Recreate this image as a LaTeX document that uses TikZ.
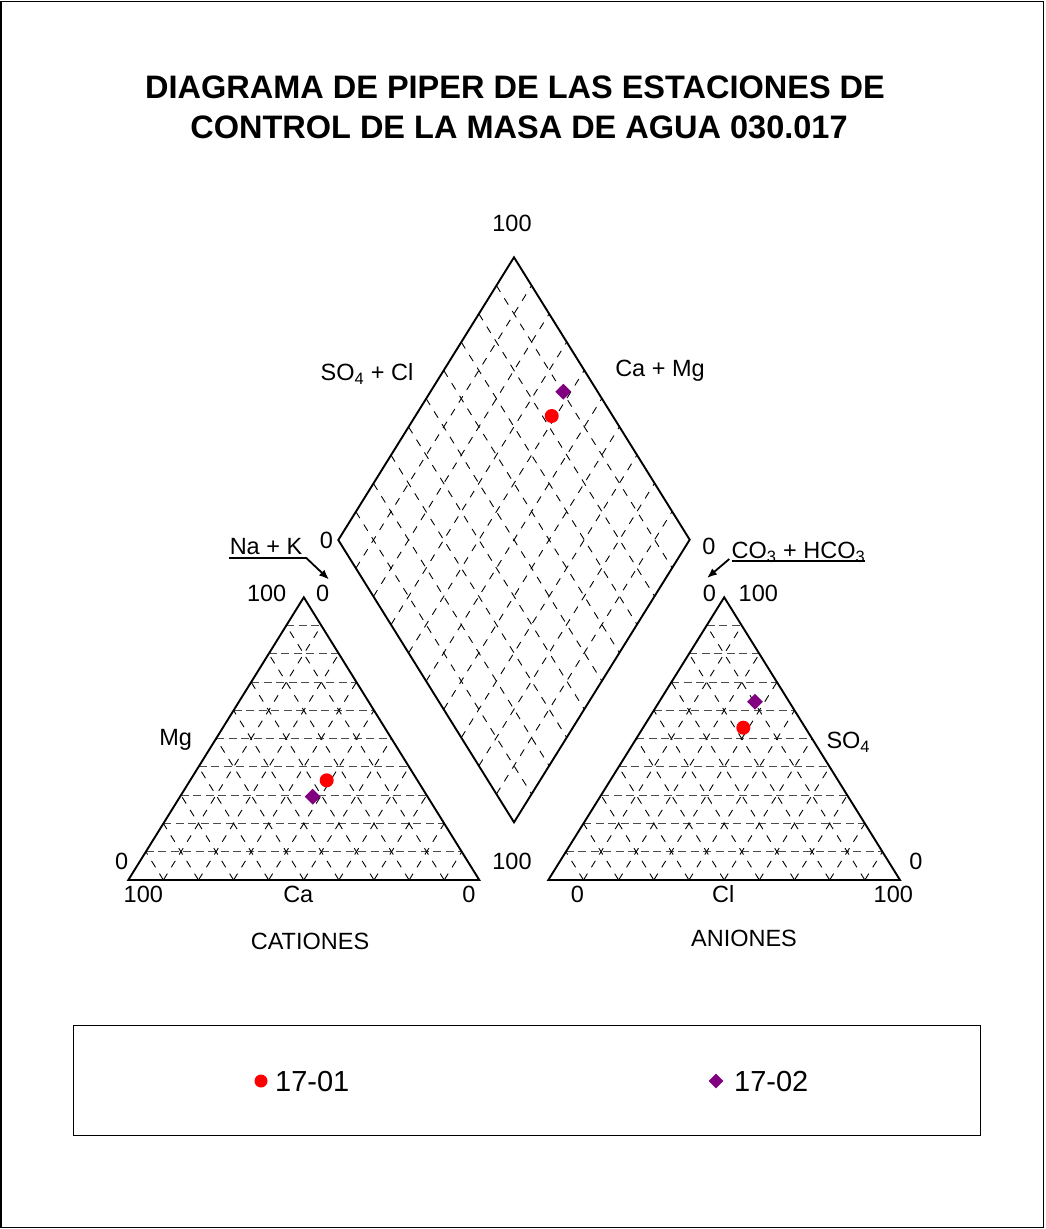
\documentclass[tikz,border=0pt]{standalone}
\usepackage{fontspec}
\setmainfont{Liberation Sans}
\usetikzlibrary{arrows.meta,calc,shapes.geometric}
\definecolor{ptred}{RGB}{255,0,0}
\definecolor{ptpurple}{RGB}{128,0,128}
\begin{document}
\begin{tikzpicture}[x=1pt,y=-1pt,
  frame/.style={draw=black,line width=1.8pt},
  axis/.style={draw=black,line width=1.9pt,line join=miter},
  gridd/.style={draw=black,line width=0.9pt,dash pattern=on 7.5pt off 7.5pt},
  gridh/.style={draw=black!70,line width=1.1pt,dash pattern=on 8pt off 4.5pt},
  lbl/.style={font=\fontsize{23.5}{28}\selectfont,inner sep=0pt,text height=16.8pt,text depth=0pt},
  ttl/.style={font=\bfseries\fontsize{32.5}{39}\selectfont,inner sep=0pt,text height=23.3pt,text depth=0pt},
  legtxt/.style={font=\fontsize{29}{34}\selectfont,inner sep=0pt,text height=20.8pt,text depth=0pt,anchor=west},
  ptcirc/.style={circle,fill=ptred,minimum size=14pt,inner sep=0pt},
  ptdiam/.style={diamond,fill=ptpurple,minimum size=16pt,inner sep=0pt},
  conn/.style={draw=black,line width=1.8pt,-{Latex[length=10pt,width=8pt]}}
]
\useasboundingbox (0,0) rectangle (1045,1229);
\draw[frame] (1,1.5) rectangle (1043.5,1227.5);

% title
\node[ttl] (t1) at (515,86.5) {DIAGRAMA DE PIPER DE LAS ESTACIONES DE};
\node[ttl] (t2) at (519,126.5) {CONTROL DE LA MASA DE AGUA 030.017};

% left triangle (cations)
\coordinate (LA) at (128.3,880);
\coordinate (LB) at (479.3,880);
\coordinate (LC) at (303.8,597.3);
\foreach \i in {1,...,9} {
  \draw[gridh] ($(LA)!\i/10!(LC)$) -- ($(LB)!\i/10!(LC)$);
  \draw[gridd] ($(LA)!\i/10!(LB)$) -- ($(LC)!\i/10!(LB)$);
  \draw[gridd] ($(LA)!\i/10!(LB)$) -- ($(LA)!\i/10!(LC)$);
}
\draw[axis] (LA) -- (LB) -- (LC) -- cycle;

% right triangle (anions)
\coordinate (RA) at (548.3,880);
\coordinate (RB) at (900,880);
\coordinate (RC) at (724.2,597.3);
\foreach \i in {1,...,9} {
  \draw[gridh] ($(RA)!\i/10!(RC)$) -- ($(RB)!\i/10!(RC)$);
  \draw[gridd] ($(RA)!\i/10!(RB)$) -- ($(RC)!\i/10!(RB)$);
  \draw[gridd] ($(RA)!\i/10!(RB)$) -- ($(RA)!\i/10!(RC)$);
}
\draw[axis] (RA) -- (RB) -- (RC) -- cycle;

% diamond
\coordinate (DL) at (338.3,540);
\coordinate (DT) at (514,257.3);
\coordinate (DB) at (514,822.3);
\coordinate (DR) at (689.7,539.7);
\foreach \i in {1,...,9} {
  \draw[gridd] ($(DL)!\i/10!(DT)$) -- ($(DB)!\i/10!(DR)$);
  \draw[gridd] ($(DL)!\i/10!(DB)$) -- ($(DT)!\i/10!(DR)$);
}
\draw[axis] (DL) -- (DT) -- (DR) -- (DB) -- cycle;

% data points
\node[ptcirc] (p1d) at (551.7,416) {};
\node[ptdiam] (p2d) at (563.3,391.7) {};
\node[ptcirc] (p1c) at (326.7,780.3) {};
\node[ptdiam] (p2c) at (312.7,796.7) {};
\node[ptdiam] (p2a) at (755,701.7) {};
\node[ptcirc] (p1a) at (743.3,727.7) {};

% diamond labels
\node[lbl] (d100) at (512,223) {100};
\node[lbl] (dso4cl) at (367,372) {SO\textsubscript{4} + Cl};
\node[lbl] (dcamg) at (660,368) {Ca + Mg};
\node[lbl] (d0l) at (326.5,540) {0};
\node[lbl] (d0r) at (709,546) {0};

% Na + K
\node[lbl] (nak) at (266,546) {Na + K};
\coordinate (nakU1) at (229.3,557.7);
\coordinate (nakU2) at (306,557.7);
\coordinate (nakTip) at (329,579.5);
\draw[line width=1.8pt] (nakU1) -- (nakU2);
\draw[conn] (nakU2) -- (nakTip);

% CO3 + HCO3
\node[lbl] (co3) at (798.5,550) {CO\textsubscript{3} + HCO\textsubscript{3}};
\coordinate (coU1) at (731.7,560.7);
\coordinate (coU2) at (865,560.7);
\coordinate (coS) at (729.3,559);
\coordinate (coTip) at (707,578);
\draw[line width=1.8pt] (coU1) -- (coU2);
\draw[conn] (coS) -- (coTip);

% left triangle labels
\node[lbl] (l100t) at (266.7,592.7) {100};
\node[lbl] (l0t) at (322.7,592.7) {0};
\node[lbl] (lmg) at (175.7,737.3) {Mg};
\node[lbl] (l0l) at (121.7,860.7) {0};
\node[lbl] (l100r) at (512,860.7) {100};
\node[lbl] (l100b) at (143.3,894.3) {100};
\node[lbl] (lca) at (298.3,894.3) {Ca};
\node[lbl] (l0b) at (469,894.3) {0};
\node[lbl] (lcat) at (310,940.7) {CATIONES};

% right triangle labels
\node[lbl] (r0t) at (709.3,592.7) {0};
\node[lbl] (r100t) at (758.3,592.7) {100};
\node[lbl] (rso4) at (848.3,740) {SO\textsubscript{4}};
\node[lbl] (r0r) at (916,860.7) {0};
\node[lbl] (r0b) at (577.3,894.3) {0};
\node[lbl] (rcl) at (723.3,894.3) {Cl};
\node[lbl] (r100b) at (893.3,894.3) {100};
\node[lbl] (rani) at (744,938.3) {ANIONES};

% legend
\node[draw=black,line width=0.9pt,minimum width=907pt,minimum height=110pt,inner sep=0pt] (leg) at (526.5,1080) {};
\node[circle,fill=ptred,minimum size=13pt,inner sep=0pt] (lg1) at (261,1081) {};
\node[legtxt] (lg1t) at (275,1081) {17-01};
\node[diamond,fill=ptpurple,minimum size=15pt,inner sep=0pt] (lg2) at (716,1081) {};
\node[legtxt] (lg2t) at (734,1081) {17-02};
\end{tikzpicture}
\end{document}
